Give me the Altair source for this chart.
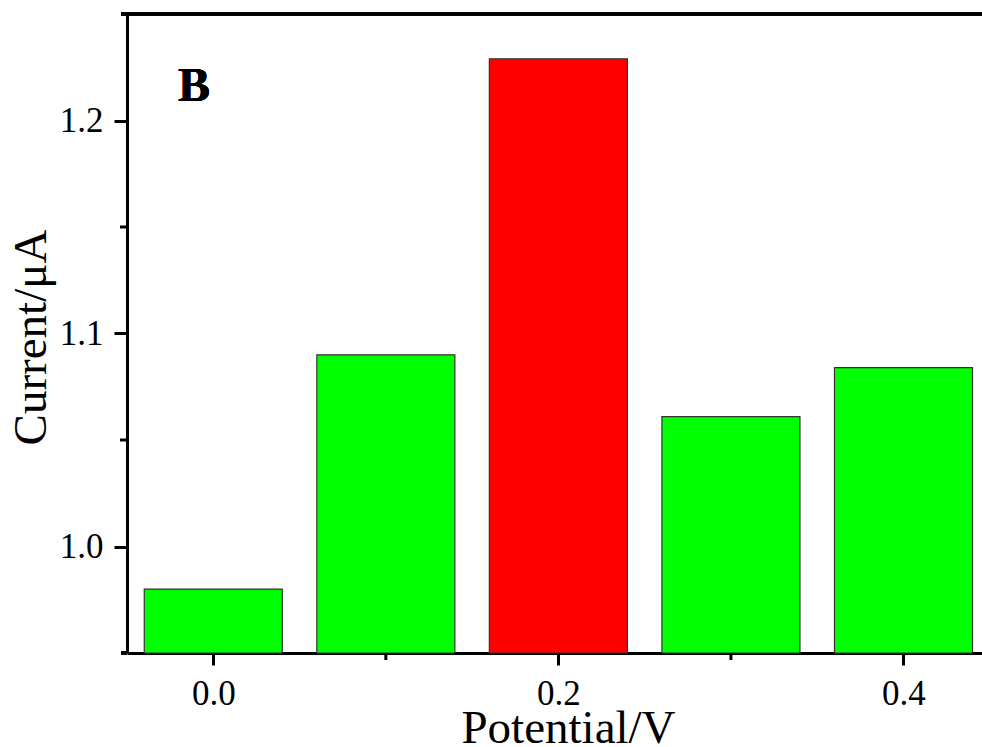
import altair as alt
import pandas as pd

# Current response at each applied potential
potential = [0.0, 0.1, 0.2, 0.3, 0.4]
current = [0.980, 1.090, 1.229, 1.061, 1.084]
bar_fill = ["#00FF00", "#00FF00", "#FF0000", "#00FF00", "#00FF00"]

x_major = [0.0, 0.2, 0.4]
x_minor = [0.1, 0.3]
y_major = [1.0, 1.1, 1.2]
y_minor = [1.05, 1.15]

x_domain = [-0.05, 0.4455]
y_domain = [0.95, 1.25]
bar_half = 0.04

FONT = "Liberation Serif"

bars_df = pd.DataFrame({"potential": potential, "current": current, "fill": bar_fill})

x_scale = alt.Scale(domain=x_domain, nice=False, zero=False)
y_scale = alt.Scale(domain=y_domain, nice=False, zero=False)

common_axis = dict(
    grid=False, domainColor="black", domainWidth=3, tickColor="black", tickWidth=3,
    labelFont=FONT, labelFontSize=35, labelColor="black", labelPadding=11,
    titleFont=FONT, titleFontSize=47, titleFontWeight="normal", titleColor="black",
    format=".1f", labelFlush=False, labelOverlap=False,
)

bars = alt.Chart(bars_df).transform_calculate(
    lo=f"datum.potential - {bar_half}", hi=f"datum.potential + {bar_half}"
).mark_bar(stroke="#333333", strokeWidth=1.2).encode(
    x=alt.X("lo:Q", scale=x_scale,
            axis=alt.Axis(values=x_major, title="Potential/V", tickSize=12,
                          titleX=441, titleY=89, titleAlign="center",
                          titleBaseline="alphabetic", **common_axis)),
    x2="hi:Q",
    y=alt.Y("current:Q", scale=y_scale,
            axis=alt.Axis(values=y_major, title="Current/μA", tickSize=13,
                          titleX=-82, titleY=323, titleAlign="center", titleAngle=270,
                          titleBaseline="alphabetic", **common_axis)),
    y2=alt.datum(y_domain[0]),
    color=alt.Color("fill:N", scale=None),
)

# top frame line, and a short overhang of the bottom axis line on the left
top_line = alt.Chart(bars_df).mark_rule(color="black", strokeWidth=3).encode(
    y=alt.datum(y_domain[1]),
    x=alt.value(-6),
    x2=alt.value(855),
)
bottom_line = alt.Chart(bars_df).mark_rule(color="black", strokeWidth=3).encode(
    y=alt.datum(y_domain[0]),
    x=alt.value(-6),
    x2=alt.value(0),
)

# minor ticks on both axes
minor_y = alt.Chart(pd.DataFrame({"current": y_minor})).mark_rule(
    color="black", strokeWidth=3
).encode(
    y=alt.Y("current:Q"),
    x=alt.value(-7),
    x2=alt.value(0),
)

minor_x = alt.Chart(pd.DataFrame({"lo": x_minor})).mark_rule(
    color="black", strokeWidth=3
).encode(
    x=alt.X("lo:Q"),
    y=alt.value(639),
    y2=alt.value(646),
)

panel_label = alt.Chart(bars_df).mark_text(
    text="B", font=FONT, fontSize=48, fontWeight="bold", color="black",
    align="left", baseline="alphabetic",
).encode(
    x=alt.datum(-0.0205),
    y=alt.datum(1.2093),
)

chart = alt.layer(bars, top_line, bottom_line, minor_y, minor_x, panel_label).properties(
    width=855,
    height=639,
    padding={"left": 127, "top": 14, "right": 0, "bottom": 94},
    autosize=alt.AutoSizeParams(type="none"),
    background="white",
).configure_view(stroke="transparent")

chart.save("out.html", embed_options={"renderer": "svg", "actions": False})
